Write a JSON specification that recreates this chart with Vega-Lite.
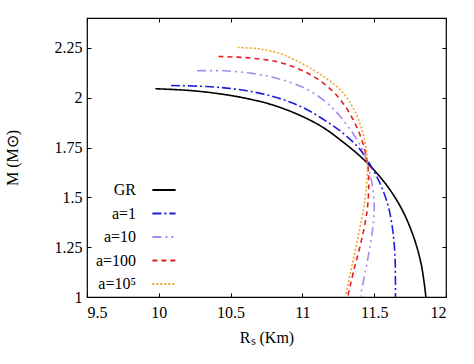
{
  "$schema": "https://vega.github.io/schema/vega-lite/v6.json",
  "width": 359,
  "height": 279,
  "autosize": {"type": "none"},
  "padding": {"left": 87, "top": 18, "right": 28, "bottom": 67},
  "background": "white",
  "config": {
    "view": {"stroke": "black", "strokeWidth": 1.2},
    "font": "Liberation Serif",
    "axis": {"grid": false, "domain": false, "tickColor": "black", "tickSize": -4, "labelFont": "Liberation Serif", "titleFont": "Liberation Serif", "labelFontSize": 16, "labelColor": "black", "titleFontSize": 16, "titleFontWeight": "normal", "titleColor": "black"}
  },
  "data": {"values": [
    {"s":"GR","i":0,"x":9.976,"y":2.045},{"s":"GR","i":1,"x":10.2,"y":2.037},{"s":"GR","i":2,"x":10.4,"y":2.022},{"s":"GR","i":3,"x":10.6,"y":1.998},{"s":"GR","i":4,"x":10.8,"y":1.962},{"s":"GR","i":5,"x":11.0,"y":1.906},{"s":"GR","i":6,"x":11.15,"y":1.848},{"s":"GR","i":7,"x":11.3,"y":1.768},{"s":"GR","i":8,"x":11.4,"y":1.708},{"s":"GR","i":9,"x":11.5,"y":1.636},{"s":"GR","i":10,"x":11.6,"y":1.548},{"s":"GR","i":11,"x":11.7,"y":1.43},{"s":"GR","i":12,"x":11.78,"y":1.29},{"s":"GR","i":13,"x":11.83,"y":1.155},{"s":"GR","i":14,"x":11.86,"y":1.0},
    {"s":"a=1","i":0,"x":10.085,"y":2.061},{"s":"a=1","i":1,"x":10.336,"y":2.056},{"s":"a=1","i":2,"x":10.568,"y":2.04},{"s":"a=1","i":3,"x":10.8,"y":2.005},{"s":"a=1","i":4,"x":11.0,"y":1.952},{"s":"a=1","i":5,"x":11.2,"y":1.866},{"s":"a=1","i":6,"x":11.3,"y":1.812},{"s":"a=1","i":7,"x":11.4,"y":1.742},{"s":"a=1","i":8,"x":11.45,"y":1.69},{"s":"a=1","i":9,"x":11.5,"y":1.628},{"s":"a=1","i":10,"x":11.55,"y":1.555},{"s":"a=1","i":11,"x":11.6,"y":1.45},{"s":"a=1","i":12,"x":11.63,"y":1.33},{"s":"a=1","i":13,"x":11.645,"y":1.2},{"s":"a=1","i":14,"x":11.648,"y":1.0},
    {"s":"a=10","i":0,"x":10.266,"y":2.135},{"s":"a=10","i":1,"x":10.45,"y":2.135},{"s":"a=10","i":2,"x":10.65,"y":2.122},{"s":"a=10","i":3,"x":10.85,"y":2.092},{"s":"a=10","i":4,"x":11.05,"y":2.035},{"s":"a=10","i":5,"x":11.2,"y":1.955},{"s":"a=10","i":6,"x":11.3,"y":1.872},{"s":"a=10","i":7,"x":11.38,"y":1.79},{"s":"a=10","i":8,"x":11.43,"y":1.72},{"s":"a=10","i":9,"x":11.46,"y":1.65},{"s":"a=10","i":10,"x":11.485,"y":1.57},{"s":"a=10","i":11,"x":11.5,"y":1.47},{"s":"a=10","i":12,"x":11.495,"y":1.38},{"s":"a=10","i":13,"x":11.475,"y":1.27},{"s":"a=10","i":14,"x":11.44,"y":1.135},{"s":"a=10","i":15,"x":11.403,"y":1.0},
    {"s":"a=100","i":0,"x":10.416,"y":2.207},{"s":"a=100","i":1,"x":10.637,"y":2.199},{"s":"a=100","i":2,"x":10.85,"y":2.176},{"s":"a=100","i":3,"x":11.05,"y":2.118},{"s":"a=100","i":4,"x":11.2,"y":2.04},{"s":"a=100","i":5,"x":11.3,"y":1.955},{"s":"a=100","i":6,"x":11.38,"y":1.85},{"s":"a=100","i":7,"x":11.43,"y":1.75},{"s":"a=100","i":8,"x":11.455,"y":1.66},{"s":"a=100","i":9,"x":11.462,"y":1.56},{"s":"a=100","i":10,"x":11.45,"y":1.43},{"s":"a=100","i":11,"x":11.41,"y":1.28},{"s":"a=100","i":12,"x":11.36,"y":1.14},{"s":"a=100","i":13,"x":11.315,"y":1.0},
    {"s":"a=10⁵","i":0,"x":10.549,"y":2.252},{"s":"a=10⁵","i":1,"x":10.7,"y":2.245},{"s":"a=10⁵","i":2,"x":10.85,"y":2.22},{"s":"a=10⁵","i":3,"x":11.0,"y":2.17},{"s":"a=10⁵","i":4,"x":11.15,"y":2.105},{"s":"a=10⁵","i":5,"x":11.27,"y":2.035},{"s":"a=10⁵","i":6,"x":11.36,"y":1.94},{"s":"a=10⁵","i":7,"x":11.41,"y":1.85},{"s":"a=10⁵","i":8,"x":11.44,"y":1.76},{"s":"a=10⁵","i":9,"x":11.452,"y":1.68},{"s":"a=10⁵","i":10,"x":11.447,"y":1.56},{"s":"a=10⁵","i":11,"x":11.425,"y":1.44},{"s":"a=10⁵","i":12,"x":11.38,"y":1.275},{"s":"a=10⁵","i":13,"x":11.34,"y":1.14},{"s":"a=10⁵","i":14,"x":11.299,"y":1.0}
  ]},
  "layer": [
    {
      "mark": {"type": "line", "interpolate": "catmull-rom", "strokeWidth": 1.6, "clip": true},
      "encoding": {
        "x": {"field": "x", "type": "quantitative", "scale": {"domain": [9.5, 12], "nice": false, "zero": false},
              "axis": {"orient": "bottom", "values": [9.5, 10, 10.5, 11, 11.5, 12], "format": ".3~g", "title": "Rₛ (Km)", "labelPadding": 11, "titlePadding": 9}},
        "y": {"field": "y", "type": "quantitative", "scale": {"domain": [1, 2.4], "nice": false, "zero": false},
              "axis": {"orient": "left", "values": [1, 1.25, 1.5, 1.75, 2, 2.25], "format": ".3~g", "title": "M (M⊙)", "labelPadding": 9, "titlePadding": 34}},
        "order": {"field": "i", "type": "quantitative"},
        "color": {"field": "s", "type": "nominal",
                  "scale": {"domain": ["GR", "a=1", "a=10", "a=100", "a=10⁵"], "range": ["#000000", "#1c1cd8", "#a68af0", "#e3201f", "#f5a52e"]},
                  "legend": {"orient": "none", "legendX": 64, "legendY": 159, "title": null, "symbolType": "stroke", "symbolSize": 540, "symbolStrokeWidth": 2, "labelAlign": "right", "labelOffset": -41, "labelFont": "Liberation Serif", "labelFontSize": 16, "labelColor": "black", "rowPadding": 2.5, "labelLimit": 200}},
        "strokeDash": {"field": "s", "type": "nominal",
                  "scale": {"domain": ["GR", "a=1", "a=10", "a=100", "a=10⁵"], "range": [[1, 0], [9, 3, 2, 3], [9, 4, 2, 4, 2, 4], [5, 4], [2, 2]]},
                  "legend": null}
      }
    },
    {
      "mark": {"type": "point", "opacity": 0},
      "encoding": {
        "x": {"field": "x", "type": "quantitative", "axis": {"orient": "top", "values": [9.5, 10, 10.5, 11, 11.5, 12], "labels": false, "title": null}},
        "y": {"field": "y", "type": "quantitative", "axis": {"orient": "right", "values": [1, 1.25, 1.5, 1.75, 2, 2.25], "labels": false, "title": null}}
      }
    }
  ]
}
